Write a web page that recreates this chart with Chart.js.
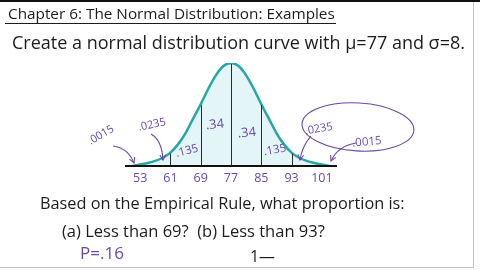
<!DOCTYPE html>
<html><head><meta charset="utf-8">
<script src="https://cdn.jsdelivr.net/npm/chart.js@4/dist/chart.umd.min.js"></script>
<style>html,body{margin:0;padding:0;background:#fff;overflow:hidden}canvas{display:block}</style>
</head><body>
<canvas id="c" width="480" height="270"></canvas>
<script>
// ---- data ----
const curveX = [51,53,55,57,59,61,63,65,67,69,71,73,75,77,79,81,83,85,87,89,91,93,95,97,99,101,103];
const curveY = [0.00,0.015,0.03,0.05,0.08,0.13,0.21,0.32,0.46,0.60,0.75,0.88,0.97,1.00,0.97,0.88,0.75,0.60,0.46,0.32,0.21,0.13,0.08,0.05,0.03,0.015,0.00];
const tickLabels = [53,61,69,77,85,93,101];
const dividerX = [61,69,77,85,93];
const areaLabels = [".0015",".0235",".135",".34",".34",".135",".0235",".0015"];

const titleText = "Chapter 6: The Normal Distribution: Examples";
const promptText = "Create a normal distribution curve with \u03BC=77 and \u03C3=8.";
const questionText = "Based on the Empirical Rule, what proportion is:";
const partsText = "(a) Less than 69?  (b) Less than 93?";
const answerA = "P=.16";
const answerB = "1\u2014";

// ---- layout (positions in data units of the chart) ----
const labelPos = [[42.66,0.30,-30,11],[56.13,0.40,-12,11],[65.38,0.146,-15,11.5],[72.77,0.40,-5,13],[81.2,0.32,-5,13],[88.6,0.155,-10,11.5],[100.2,0.36,-10,11],[112.9,0.233,-5,11.5]];
const arrows = [
  [[45.83,0.194],[49.79,0.175],[51.38,0.029]],
  [[55.87,0.311],[58.77,0.252],[59.04,0.058]],
  [[98.13,0.291],[95.76,0.194],[95.22,0.058]],
  [[110.0,0.223],[105.26,0.194],[103.41,0.049]]
];
const PURPLE = '#6b48a6';
const INK = '#1c1c1c';
const FONT = '"Open Sans", "DejaVu Sans", sans-serif';

function fitText(ctx, text, x, base, width, color, weight) {
  ctx.save();
  ctx.font = (weight||'') + ' 20px ' + FONT;
  const w = ctx.measureText(text).width;
  const size = 20 * width / w;
  ctx.font = (weight||'') + ' ' + size.toFixed(2) + 'px ' + FONT;
  ctx.fillStyle = color;
  ctx.textAlign = 'left';
  ctx.textBaseline = 'alphabetic';
  ctx.fillText(text, x, base);
  ctx.restore();
}

const deco = {
  id: 'deco',
  beforeDraw(chart) {
    const ctx = chart.ctx;
    ctx.save();
    ctx.fillStyle = '#fff';
    ctx.fillRect(0, 0, 480, 270);
    ctx.restore();
  },
  afterDatasetsDraw(chart) {
    const ctx = chart.ctx;
    const xs = chart.scales.x, ys = chart.scales.y;
    const px = v => xs.getPixelForValue(v);
    const py = v => ys.getPixelForValue(v);
    ctx.save();
    // divider lines
    ctx.strokeStyle = '#2a2a2a';
    ctx.lineWidth = 1;
    dividerX.forEach(d => {
      const h = curveY[curveX.indexOf(d)];
      const X = Math.round(px(d)) + 0.5;
      ctx.beginPath(); ctx.moveTo(X, py(0)); ctx.lineTo(X, py(h) + 1); ctx.stroke();
    });
    // axis line
    ctx.strokeStyle = '#111';
    ctx.lineWidth = 2;
    ctx.beginPath(); ctx.moveTo(xs.left, py(0)); ctx.lineTo(xs.right, py(0)); ctx.stroke();
    // tick labels
    ctx.fillStyle = PURPLE;
    ctx.font = '12.5px ' + FONT;
    ctx.textAlign = 'center';
    ctx.textBaseline = 'alphabetic';
    tickLabels.forEach(t => ctx.fillText(String(t), px(t), py(0) + 16));
    // area labels
    areaLabels.forEach((s, i) => {
      const [v, h, r, fs] = labelPos[i];
      ctx.save();
      ctx.font = fs + 'px ' + FONT;
      ctx.translate(px(v), py(h));
      ctx.rotate(r * Math.PI / 180);
      ctx.textBaseline = 'middle';
      ctx.fillText(s, 0, 0);
      ctx.restore();
    });
    // arrows
    ctx.strokeStyle = PURPLE;
    ctx.lineWidth = 1.1;
    arrows.forEach(a => {
      const s = [px(a[0][0]), py(a[0][1])], c = [px(a[1][0]), py(a[1][1])], e = [px(a[2][0]), py(a[2][1])];
      ctx.beginPath(); ctx.moveTo(s[0], s[1]); ctx.quadraticCurveTo(c[0], c[1], e[0], e[1]); ctx.stroke();
      const ang = Math.atan2(e[1] - c[1], e[0] - c[0]);
      const L = 6;
      ctx.beginPath();
      ctx.moveTo(e[0] - L * Math.cos(ang - 0.5), e[1] - L * Math.sin(ang - 0.5));
      ctx.lineTo(e[0], e[1]);
      ctx.lineTo(e[0] - L * Math.cos(ang + 0.5), e[1] - L * Math.sin(ang + 0.5));
      ctx.stroke();
    });
    // loop around right tail labels
    ctx.beginPath();
    ctx.ellipse(px(110.54), py(0.379), 56, 24, 0.06, 0, Math.PI * 2);
    ctx.stroke();
    ctx.restore();

    // texts
    fitText(ctx, titleText, 8, 19, 327, INK);
    ctx.save(); ctx.strokeStyle = INK; ctx.lineWidth = 1;
    ctx.beginPath(); ctx.moveTo(5, 23.5); ctx.lineTo(336, 23.5); ctx.stroke(); ctx.restore();
    fitText(ctx, promptText, 12, 49, 453, INK);
    fitText(ctx, questionText, 40, 209, 365, INK);
    fitText(ctx, partsText, 62, 237, 263, INK);
    fitText(ctx, answerA, 80, 259, 44, PURPLE);
    fitText(ctx, answerB, 250, 262, 25, INK);

    // frame
    ctx.save();
    ctx.fillStyle = '#111'; ctx.fillRect(0, 0, 480, 2);
    ctx.strokeStyle = '#c4c4c4'; ctx.lineWidth = 1;
    ctx.beginPath(); ctx.moveTo(473.5, 2); ctx.lineTo(473.5, 268); ctx.stroke();
    ctx.beginPath(); ctx.moveTo(0, 267.5); ctx.lineTo(474, 267.5); ctx.stroke();
    ctx.restore();
  }
};

new Chart(document.getElementById('c').getContext('2d'), {
  type: 'line',
  data: { datasets: [{
    data: curveX.map((x, i) => ({ x: x, y: curveY[i] })),
    borderColor: '#27a6a7',
    borderWidth: 2.5,
    backgroundColor: '#e3f5f7',
    fill: 'origin',
    pointRadius: 0,
    cubicInterpolationMode: 'monotone'
  }]},
  options: {
    responsive: false,
    animation: false,
    devicePixelRatio: 1,
    layout: { padding: { left: 125, right: 143, top: 63, bottom: 104 } },
    plugins: { legend: { display: false }, tooltip: { enabled: false } },
    scales: {
      x: { type: 'linear', min: 49, max: 105, display: false },
      y: { min: 0, max: 1, display: false }
    }
  },
  plugins: [deco]
});
</script>
</body></html>
